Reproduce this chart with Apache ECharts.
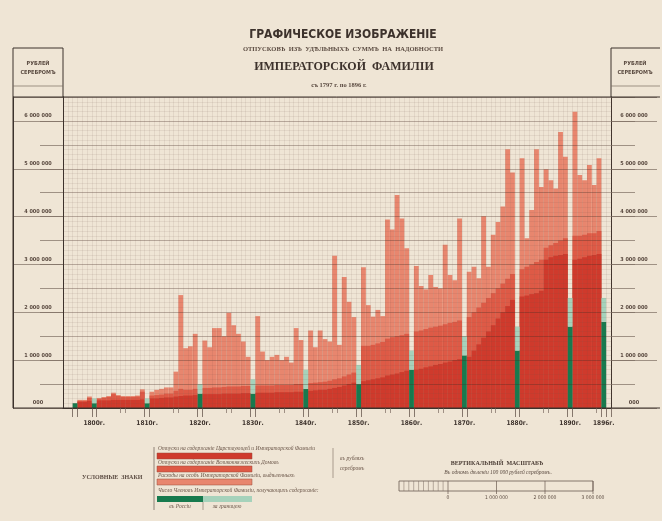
<!DOCTYPE html>
<html>
<head>
<meta charset="utf-8">
<script src="https://cdn.jsdelivr.net/npm/echarts@6/dist/echarts.min.js"></script>
<style>
  html, body { margin: 0; padding: 0; background: #efe5d5; }
  #chart { width: 662px; height: 521px; }
</style>
</head>
<body>
<div id="chart"></div>
<script>
// Yearly allotments, thousands of silver rubles (cumulative levels of the three layers)
const years = [1797, 1798, 1799,
  1800, 1801, 1802, 1803, 1804, 1805, 1806, 1807, 1808, 1809,
  1810, 1811, 1812, 1813, 1814, 1815, 1816, 1817, 1818, 1819,
  1820, 1821, 1822, 1823, 1824, 1825, 1826, 1827, 1828, 1829,
  1830, 1831, 1832, 1833, 1834, 1835, 1836, 1837, 1838, 1839,
  1840, 1841, 1842, 1843, 1844, 1845, 1846, 1847, 1848, 1849,
  1850, 1851, 1852, 1853, 1854, 1855, 1856, 1857, 1858, 1859,
  1860, 1861, 1862, 1863, 1864, 1865, 1866, 1867, 1868, 1869,
  1870, 1871, 1872, 1873, 1874, 1875, 1876, 1877, 1878, 1879,
  1880, 1881, 1882, 1883, 1884, 1885, 1886, 1887, 1888, 1889,
  1890, 1891, 1892, 1893, 1894, 1895];

// top of the whole bar (all three kinds of expenses)
const totalLevel = [170, 170, 240,
  210, 230, 250, 320, 270, 250, 250, 250, 260, 390,
  340, 380, 400, 430, 430, 760, 2360, 1250, 1290, 1550,
  1410, 1270, 1670, 1670, 1500, 1990, 1730, 1550, 1390, 1070,
  1920, 1180, 1000, 1070, 1110, 1000, 1070, 950, 1670, 1420,
  1620, 1270, 1620, 1440, 1390, 3180, 1320, 2740, 2220, 1900,
  2940, 2150, 1910, 2050, 1920, 3940, 3730, 4450, 3960, 3340,
  2970, 2550, 2480, 2780, 2530, 2500, 3410, 2780, 2670, 3960,
  2850, 2950, 2710, 4010, 2950, 3620, 3890, 4210, 5410, 4920,
  5220, 3550, 4140, 5410, 4620, 4990, 4760, 4590, 5770, 5250,
  6190, 4870, 4760, 5080, 4660, 5220];

// top of the grand-ducal household layer
const householdLevel = [150, 150, 210,
  190, 210, 230, 290, 250, 230, 230, 230, 240, 340,
  260, 270, 280, 300, 300, 360, 400, 380, 380, 400,
  420, 420, 430, 430, 440, 450, 450, 450, 460, 460,
  470, 470, 470, 470, 480, 480, 480, 480, 500, 500,
  520, 530, 540, 550, 570, 600, 620, 660, 700, 740,
  1300, 1300, 1320, 1350, 1380, 1450, 1480, 1500, 1520, 1550,
  1600, 1620, 1650, 1680, 1700, 1720, 1750, 1780, 1800, 1830,
  1900, 2000, 2100, 2200, 2300, 2400, 2500, 2600, 2700, 2800,
  2900, 2950, 3000, 3050, 3100, 3350, 3400, 3450, 3500, 3550,
  3600, 3600, 3620, 3650, 3650, 3700];

// top of the bottom layer: upkeep of the reigning family
const upkeepLevel = [130, 130, 150,
  160, 160, 160, 170, 170, 170, 170, 170, 170, 180,
  200, 200, 210, 220, 220, 240, 250, 260, 260, 270,
  290, 290, 290, 290, 300, 300, 300, 300, 310, 310,
  320, 320, 320, 320, 330, 330, 330, 330, 340, 340,
  360, 370, 380, 380, 400, 420, 440, 470, 500, 530,
  560, 580, 600, 620, 640, 680, 700, 720, 750, 780,
  800, 820, 850, 870, 900, 920, 950, 970, 1000, 1020,
  1070, 1200, 1330, 1470, 1600, 1730, 1870, 2000, 2130, 2260,
  2330, 2350, 2380, 2400, 2450, 3100, 3150, 3180, 3200, 3220,
  3100, 3120, 3150, 3180, 3200, 3220];

// Members of the Imperial family, one grid division (100 000) per person
const memberYears = [1797, 1800, 1810, 1820, 1830, 1840, 1850, 1860, 1870, 1880, 1890, 1896];
const membersInRussia = [1, 1, 1, 3, 3, 4, 5, 8, 11, 12, 17, 18];
const membersAbroad   = [0, 1, 1, 2, 3, 4, 4, 4, 4, 5, 6, 5];

const rubleTicks = ['000', '1 000 000', '2 000 000', '3 000 000', '4 000 000', '5 000 000', '6 000 000'];
const scaleTicks = ['0', '1 000 000', '2 000 000', '3 000 000'];

const PAPER = '#efe5d5';
const INK = '#3d322c';
const C_UPKEEP = '#cf3a2c';
const C_HOUSE = '#de5a46';
const C_EXTRA = '#e8866e';
const C_GREEN = '#177a4e';
const C_GREEN_L = '#a6d2bb';

// column layout: two blank columns, a narrow "members" column before each decade, one blank at the end
const cols = [];
cols.push({ kind: 'pad' }, { kind: 'pad' });
years.forEach((y, i) => {
  const g = memberYears.indexOf(y);
  if (g >= 0) cols.push({ kind: 'green', g: g, year: y });
  cols.push({ kind: 'red', i: i, year: y });
});
cols.push({ kind: 'green', g: memberYears.indexOf(1896), year: 1896 });
cols.push({ kind: 'pad' });

const cats = cols.map((c, k) => c.kind === 'red' ? String(c.year) : (c.kind === 'green' ? 'g' + c.year : 'p' + k));
const redData = arr => cols.map(c => c.kind === 'red' ? arr[c.i] : '-');
const greenData = arr => cols.map(c => c.kind === 'green' ? arr[c.g] * 100 : '-');
const isGreen = k => k >= 0 && k < cols.length && cols[k].kind === 'green';
const isMidDecade = k => k >= 0 && k < cols.length && cols[k].kind === 'red' && cols[k].year % 10 === 5;

const PLOT = { left: 63, top: 97, width: 548, height: 311 };
const YMAX = 6500;
const gridLine = 'rgba(110,85,70,0.17)';
const gridLineMajor = 'rgba(70,45,35,0.42)';

const fontSerif = '"Liberation Serif", "DejaVu Serif", serif';
const fontSans = '"DejaVu Sans Condensed", "Liberation Sans Narrow", "DejaVu Sans", sans-serif';

const barBase = { type: 'bar', xAxisIndex: 0, yAxisIndex: 0, barGap: '-100%', barCategoryGap: '0%', silent: true };

const option = {
  backgroundColor: PAPER,
  animation: false,
  title: [
    { text: 'ГРАФИЧЕСКОЕ ИЗОБРАЖЕНІЕ', left: 338, top: 24, textAlign: 'center',
      textStyle: { fontFamily: fontSans, fontWeight: 'bold', fontSize: 12, color: INK } },
    { text: 'ОТПУСКОВЪ  ИЗЪ  УДѢЛЬНЫХЪ  СУММЪ  НА  НАДОБНОСТИ', left: 338, top: 41, textAlign: 'center',
      textStyle: { fontFamily: fontSerif, fontWeight: 'bold', fontSize: 6.5, color: '#5a4a40' } },
    { text: 'ИМПЕРАТОРСКОЙ  ФАМИЛІИ', left: 339, top: 56, textAlign: 'center',
      textStyle: { fontFamily: fontSerif, fontWeight: 'bold', fontSize: 12, color: INK } },
    { text: 'съ 1797 г. по 1896 г.', left: 334, top: 77, textAlign: 'center',
      textStyle: { fontFamily: fontSerif, fontSize: 6.5, color: '#5a4a40' } }
  ],
  grid: [
    { left: PLOT.left, top: PLOT.top, width: PLOT.width, height: PLOT.height },
    { left: 13, top: PLOT.top, width: 50, height: PLOT.height },
    { left: 611, top: PLOT.top, width: 46, height: PLOT.height },
    { left: PLOT.left, top: PLOT.top, width: PLOT.width, height: PLOT.height }
  ],
  xAxis: [
    { type: 'category', gridIndex: 0, data: cats, z: 5,
      axisLine: { show: true, lineStyle: { color: INK, width: 1 } },
      axisTick: { show: true, length: 9, interval: (k) => isGreen(k) || isGreen(k - 1), lineStyle: { color: '#6a5a50', width: 0.8 } },
      axisLabel: { show: true, margin: 12, interval: (k, v) => isGreen(k) && cols[k].year !== 1797,
        formatter: v => v.slice(1) + 'г.', fontFamily: fontSans, fontWeight: 'bold', fontSize: 6.5, color: INK },
      splitLine: { show: true, interval: 0, lineStyle: { color: gridLine, width: 0.6 } } },
    { type: 'category', gridIndex: 1, data: ['a'], show: false },
    { type: 'category', gridIndex: 2, data: ['a'], show: false },
    { type: 'category', gridIndex: 3, data: cats, z: 5,
      axisLine: { show: false }, axisLabel: { show: false }, splitLine: { show: false },
      axisTick: { show: true, length: 5, interval: (k) => isMidDecade(k) || isMidDecade(k - 1), lineStyle: { color: '#8a7a70', width: 0.8 } } }
  ],
  yAxis: [
    { type: 'value', gridIndex: 0, min: 0, max: YMAX, interval: 500, z: 5,
      axisLine: { show: true, lineStyle: { color: INK, width: 1 } },
      axisTick: { show: false }, axisLabel: { show: false },
      minorTick: { show: false, splitNumber: 5 },
      splitLine: { show: true, lineStyle: { color: gridLineMajor, width: 0.8 } },
      minorSplitLine: { show: true, lineStyle: { color: gridLine, width: 0.6 } } },
    // left scale column
    { type: 'value', gridIndex: 1, min: 0, max: YMAX, interval: 1000,
      axisLine: { show: true, lineStyle: { color: INK, width: 1 } },
      axisTick: { show: false },
      axisLabel: { inside: true, margin: 25, align: 'center', verticalAlign: 'bottom', padding: [0, 0, 2, 0],
        formatter: v => rubleTicks[v / 1000] || '', fontFamily: fontSans, fontWeight: 'bold', fontSize: 5.5, color: '#5a4a40' },
      splitLine: { show: true, lineStyle: { color: '#7d6d62', width: 0.7 } } },
    { type: 'value', gridIndex: 1, min: 0, max: YMAX, interval: 500, position: 'right',
      axisLine: { show: true, lineStyle: { color: INK, width: 1 } },
      axisTick: { show: true, inside: true, length: 23, lineStyle: { color: '#7d6d62', width: 0.7 } },
      axisLabel: { show: false }, splitLine: { show: false } },
    // right scale column
    { type: 'value', gridIndex: 2, min: 0, max: YMAX, interval: 1000,
      axisLine: { show: true, lineStyle: { color: INK, width: 1 } },
      axisTick: { show: false },
      axisLabel: { inside: true, margin: 23, align: 'center', verticalAlign: 'bottom', padding: [0, 0, 2, 0],
        formatter: v => rubleTicks[v / 1000] || '', fontFamily: fontSans, fontWeight: 'bold', fontSize: 5.5, color: '#5a4a40' },
      splitLine: { show: true, lineStyle: { color: '#7d6d62', width: 0.7 } } },
    { type: 'value', gridIndex: 2, min: 0, max: YMAX, interval: 500, position: 'left',
      axisLine: { show: false },
      axisTick: { show: true, inside: true, length: 24, lineStyle: { color: '#7d6d62', width: 0.7 } },
      axisLabel: { show: false }, splitLine: { show: false } },
    { type: 'value', gridIndex: 3, min: 0, max: YMAX, show: false }
  ],
  series: [
    Object.assign({ name: 'extra', data: redData(totalLevel), itemStyle: { color: C_EXTRA } }, barBase),
    Object.assign({ name: 'household', data: redData(householdLevel), itemStyle: { color: C_HOUSE } }, barBase),
    Object.assign({ name: 'upkeep', data: redData(upkeepLevel), itemStyle: { color: C_UPKEEP } }, barBase),
    Object.assign({ name: 'members in Russia', stack: 'members', data: greenData(membersInRussia), itemStyle: { color: C_GREEN } }, barBase),
    Object.assign({ name: 'members abroad', stack: 'members', data: greenData(membersAbroad), itemStyle: { color: C_GREEN_L } }, barBase)
  ],
  graphic: []
};

// frame of the sheet and header boxes of the scale columns
const G = option.graphic;
const line = (x1, y1, x2, y2, w, c) => G.push({ type: 'line', silent: true, z: 10,
  shape: { x1: x1, y1: y1, x2: x2, y2: y2 }, style: { stroke: c || INK, lineWidth: w || 1 } });
const text = (x, y, s, font, align, color) => G.push({ type: 'text', silent: true, z: 10, x: x, y: y,
  style: { text: s, font: font, fill: color || INK, align: align || 'left', verticalAlign: 'middle' } });

line(13, 48, 63, 48); line(611, 48, 660, 48);
line(13, 48, 13, 408); line(63, 48, 63, 97);
line(611, 48, 611, 97);
line(13, 86, 63, 86, 0.7, '#7d6d62'); line(611, 86, 660, 86, 0.7, '#7d6d62');
line(13, 97, 660, 97);
line(13, 408, 660, 408);
text(38, 64, 'РУБЛЕЙ', 'bold 5.5px ' + fontSans, 'center', '#5a4a40');
text(38, 73, 'СЕРЕБРОМЪ', 'bold 5.5px ' + fontSans, 'center', '#5a4a40');
text(635, 64, 'РУБЛЕЙ', 'bold 5.5px ' + fontSans, 'center', '#5a4a40');
text(635, 73, 'СЕРЕБРОМЪ', 'bold 5.5px ' + fontSans, 'center', '#5a4a40');

// key of signs
const keyFont = 'italic 5.5px ' + fontSerif;
text(82, 477, 'УСЛОВНЫЕ  ЗНАКИ', 'bold 6px ' + fontSerif, 'left', '#5a4a40');
line(154, 447, 154, 510, 0.8, '#7a6a60');
G.push({ type: 'rect', silent: true, shape: { x: 157, y: 453, width: 95, height: 6 }, style: { fill: C_UPKEEP, stroke: '#9a4a3a', lineWidth: 0.5 } });
G.push({ type: 'rect', silent: true, shape: { x: 157, y: 466, width: 95, height: 6 }, style: { fill: C_HOUSE, stroke: '#9a4a3a', lineWidth: 0.5 } });
G.push({ type: 'rect', silent: true, shape: { x: 157, y: 479, width: 95, height: 6 }, style: { fill: C_EXTRA, stroke: '#9a4a3a', lineWidth: 0.5 } });
G.push({ type: 'rect', silent: true, shape: { x: 157, y: 496, width: 46, height: 6 }, style: { fill: C_GREEN } });
G.push({ type: 'rect', silent: true, shape: { x: 203, y: 496, width: 49, height: 6 }, style: { fill: C_GREEN_L } });
line(203, 502, 203, 510, 0.6, '#7a6a60');
text(158, 449, 'Отпуски на содержаніе Царствующей и Императорской Фамиліи', keyFont, 'left', '#6a5548');
text(158, 462.5, 'Отпуски на содержаніе Великокняжескихъ Домовъ', keyFont, 'left', '#6a5548');
text(158, 475.5, 'Расходы на особъ Императорской Фамиліи, выдѣленныхъ', keyFont, 'left', '#6a5548');
text(158, 491, 'Число Членовъ Императорской Фамиліи, получающихъ содержаніе:', keyFont, 'left', '#6a5548');
text(180, 507, 'въ Россіи', keyFont, 'center', '#6a5548');
text(227, 507, 'за границею', keyFont, 'center', '#6a5548');
line(333, 448, 333, 478, 0.6, '#7a6a60');
text(340, 459, 'въ рубляхъ', keyFont, 'left', '#6a5548');
text(340, 469, 'серебромъ', keyFont, 'left', '#6a5548');

// vertical scale bar
text(497, 463, 'ВЕРТИКАЛЬНЫЙ  МАСШТАБЪ', 'bold 6px ' + fontSerif, 'center', '#4a3c34');
text(498, 473, 'Въ одномъ дѣленіи 100 000 рублей серебромъ.', 'italic 5.5px ' + fontSerif, 'center', '#5a4a40');
G.push({ type: 'rect', silent: true, shape: { x: 399, y: 481, width: 194, height: 10 }, style: { fill: 'none', stroke: '#6a5a50', lineWidth: 0.8 } });
for (let k = 1; k < 10; k++) line(399 + k * 4.9, 481, 399 + k * 4.9, 491, 0.5, '#7a6a60');
[448, 496.5, 545, 593].forEach((x, k) => {
  line(x, 481, x, 494, 0.7, '#6a5a50');
  text(x, 498, scaleTicks[k], '5px ' + fontSans, 'center', '#5a4a40');
});

const chart = echarts.init(document.getElementById('chart'));
chart.setOption(option);
</script>
</body>
</html>
